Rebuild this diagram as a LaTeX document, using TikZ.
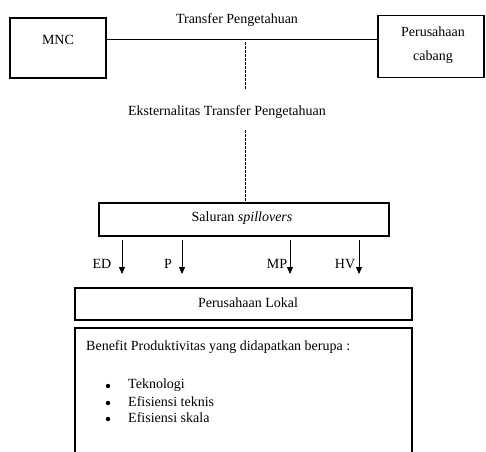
\documentclass[tikz,border=0pt]{standalone}
\usepackage{fontspec}
\setmainfont{Liberation Serif}
\usetikzlibrary{arrows.meta}
\begin{document}
\begin{tikzpicture}[x=1pt,y=-1pt,
  box/.style={draw, line width=1.6pt, inner sep=0pt},
  lbl/.style={font=\fontsize{14}{17}\selectfont, inner sep=0pt},
  bul/.style={circle, fill, inner sep=0pt, minimum size=4.4pt},
  arr/.style={-{Triangle[length=7pt,width=6pt]}, line width=0.9pt},
  dsh/.style={line width=0.8pt, dash pattern=on 2.5pt off 1.5pt}]
\useasboundingbox (0,0) rectangle (486,451);
% top boxes
\node[box, minimum width=96pt, minimum height=60pt] (mnc) at (58,48) {};
\node[lbl] (mnct) at (58,40) {MNC};
\node[box, minimum width=106pt, minimum height=62pt] (cab) at (431,46.5) {};
\node[lbl] (cab1) at (433,32) {Perusahaan};
\node[lbl] (cab2) at (433,57) {cabang};
\coordinate (hl) at (0,39.5);
\draw[line width=0.8pt] (mnc.east |- hl) -- (cab.west |- hl);
\node[lbl] (tp) at (237,20) {Transfer Pengetahuan};
% externality
\coordinate (d1) at (245,42);
\coordinate (d2) at (245,90);
\coordinate (d3) at (245,130);
\node[lbl] (eks) at (227,112) {Eksternalitas Transfer Pengetahuan};
\node[box, minimum width=290pt, minimum height=33pt] (sal) at (244,219.5) {};
\node[lbl] (salt) at (242,218) {Saluran \textit{spillovers}};
\draw[dsh] (d1) -- (d2);
\draw[dsh] (d3) -- (sal.north -| d3);
% arrows
\coordinate (a1) at (122,240); \coordinate (b1) at (122,274);
\coordinate (a2) at (182,240); \coordinate (b2) at (182,274);
\coordinate (a3) at (290,240); \coordinate (b3) at (290,274);
\coordinate (a4) at (359,240); \coordinate (b4) at (359,274);
\draw[arr] (a1) -- (b1);
\draw[arr] (a2) -- (b2);
\draw[arr] (a3) -- (b3);
\draw[arr] (a4) -- (b4);
\node[lbl] (ed) at (102,264) {ED};
\node[lbl] (p) at (168,264) {P};
\node[lbl] (mp) at (277,264) {MP};
\node[lbl] (hv) at (345,264) {HV};
% local
\node[box, minimum width=337pt, minimum height=32pt] (lok) at (243.5,304) {};
\node[lbl] (lokt) at (248,303) {Perusahaan Lokal};
\draw[line width=1.6pt] (75,460) -- (75,328) -- (412,328) -- (412,460);
\node[lbl, anchor=west] (ben) at (86,347) {Benefit Produktivitas yang didapatkan berupa :};
\node[bul] (u1) at (108,386) {};
\node[bul] (u2) at (108,403) {};
\node[bul] (u3) at (108,419) {};
\node[lbl, anchor=west] (i1) at (128,385) {Teknologi};
\node[lbl, anchor=west] (i2) at (128,402) {Efisiensi teknis};
\node[lbl, anchor=west] (i3) at (128,418) {Efisiensi skala};
\end{tikzpicture}
\end{document}
